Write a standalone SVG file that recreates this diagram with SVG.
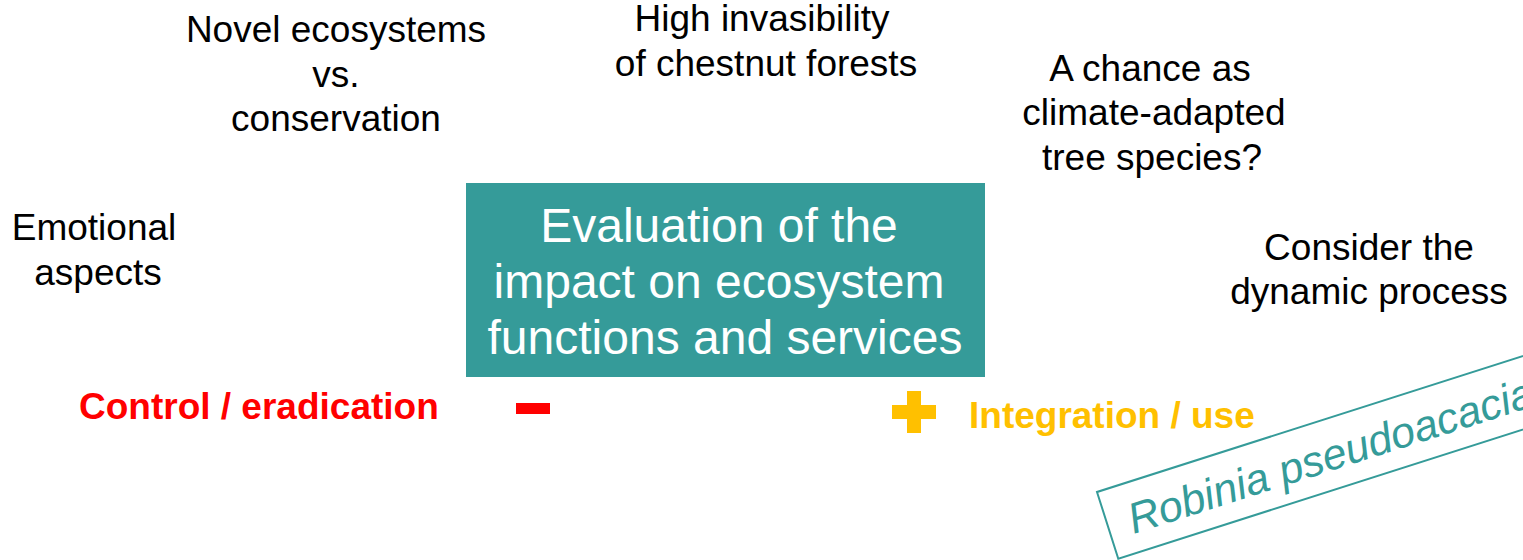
<svg xmlns="http://www.w3.org/2000/svg" width="1523" height="560" viewBox="0 0 1523 560">
<style>
  .lbl { font-family: "Liberation Sans", Arial, sans-serif; font-size: 37px; fill: #000; text-anchor: middle; }
  .core { font-family: "Liberation Sans", Arial, sans-serif; font-size: 48px; fill: #fff; text-anchor: middle; }
  .bold { font-family: "Liberation Sans", Arial, sans-serif; font-size: 37px; font-weight: bold; }
</style>
<rect width="1523" height="560" fill="#fff"/>

<g id="center">
  <rect x="466" y="183" width="519" height="194" fill="#359B99"/>
  <text class="core" x="719" y="242">Evaluation of the</text>
  <text class="core" x="719" y="298">impact on ecosystem</text>
  <text class="core" x="725" y="354">functions and services</text>
</g>

<g id="novel">
  <text class="lbl" x="336" y="42">Novel ecosystems</text>
  <text class="lbl" x="336" y="87">vs.</text>
  <text class="lbl" x="336" y="131">conservation</text>
</g>
<g id="invasibility">
  <text class="lbl" x="762" y="31">High invasibility</text>
  <text class="lbl" x="766" y="76">of chestnut forests</text>
</g>
<g id="chance">
  <text class="lbl" x="1150" y="81">A chance as</text>
  <text class="lbl" x="1154" y="125">climate-adapted</text>
  <text class="lbl" x="1152" y="170">tree species?</text>
</g>
<g id="emotional">
  <text class="lbl" x="94" y="240">Emotional</text>
  <text class="lbl" x="98" y="285">aspects</text>
</g>
<g id="dynamic">
  <text class="lbl" x="1369" y="260">Consider the</text>
  <text class="lbl" x="1369" y="304">dynamic process</text>
</g>

<g id="control">
  <text class="bold" x="79" y="419" fill="#FF0000">Control / eradication</text>
  <rect x="516" y="403" width="34" height="11" fill="#FF0000"/>
</g>
<g id="integration">
  <rect x="892" y="405" width="44" height="14" fill="#FFC000"/>
  <rect x="907" y="391" width="14" height="42" fill="#FFC000"/>
  <text class="bold" x="969" y="428" fill="#FFC000">Integration / use</text>
</g>

<!-- tilted species label, running off the right edge -->
<g id="species" transform="translate(1097,492) rotate(-17.7)">
  <rect x="0" y="0" width="460" height="70" fill="none" stroke="#359B99" stroke-width="2"/>
  <text x="22" y="51" font-family="Liberation Sans, Arial, sans-serif" font-size="43" font-style="italic" fill="#359B99">Robinia pseudoacacia</text>
</g>

<g id="connectors"></g>
</svg>
